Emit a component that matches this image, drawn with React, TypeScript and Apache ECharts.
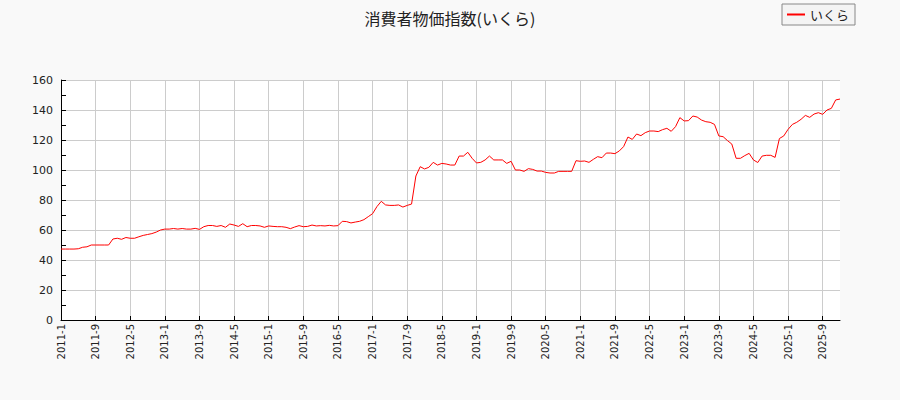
import { useEffect, useRef } from 'react';
import * as echarts from 'echarts';

const TITLE = '消費者物価指数(いくら)';
const SERIES_NAME = 'いくら';

// months from 2011-1 to 2026-1
const START_YEAR = 2011;
const MONTH_COUNT = 181;
const months: string[] = [];
for (let i = 0; i < MONTH_COUNT; i++) {
  months.push(`${START_YEAR + Math.floor(i / 12)}-${(i % 12) + 1}`);
}

const values: number[] = [
  // 2011
  47.3, 47.3, 47.3, 47.3, 47.5, 48.5, 48.8, 50, 50, 50, 50, 50,
  // 2012
  54, 54.5, 53.8, 55, 54.5, 54.5, 55.5, 56.4, 57, 57.6, 58.6, 60,
  // 2013
  60.6, 60.6, 61, 60.6, 61, 60.6, 60.6, 61.1, 60.4, 62.2, 63, 63,
  // 2014
  62.4, 63, 61.8, 64, 63.3, 62.4, 64.2, 62.2, 63, 63, 62.7, 61.8,
  // 2015
  62.7, 62.4, 62.2, 62.2, 61.8, 60.9, 62, 62.9, 62.2, 62.4, 63.3, 62.7,
  // 2016
  62.9, 62.7, 63.1, 62.7, 62.9, 65.8, 65.6, 64.7, 65.3, 65.8, 66.9, 68.9,
  // 2017
  70.9, 75.6, 79.1, 76.7, 76.4, 76.4, 76.7, 75.3, 76.4, 77.3, 96, 102.2,
  // 2018
  100.7, 101.8, 105.1, 103.3, 104.4, 104, 103.3, 103.3, 109.3, 109.3, 111.8, 107.8,
  // 2019
  104.7, 105.1, 106.7, 109.3, 106.7, 106.7, 106.7, 104.4, 105.8, 100, 100, 99.1,
  // 2020
  100.9, 100.4, 99.3, 99.3, 98.4, 98, 98, 99.1, 99.1, 99.1, 99.1, 106.2,
  // 2021
  105.8, 106, 105.1, 107.1, 108.9, 108.2, 111.3, 111.3, 110.9, 112.7, 115.6, 122,
  // 2022
  120.4, 124, 122.9, 124.9, 126, 126, 125.6, 126.9, 127.8, 125.8, 128.9, 134.9,
  // 2023
  132.7, 132.9, 136, 135.3, 133.3, 132.2, 131.8, 130.4, 122.7, 122.2, 119.6, 117.3,
  // 2024
  107.8, 107.8, 109.6, 111.1, 106.7, 105, 109.3, 109.8, 109.8, 108.4, 121, 122.7,
  // 2025
  127.1, 130.4, 131.8, 133.8, 136.4, 135.1, 137.3, 138.2, 137.1, 140, 141.1, 146.7,
  // 2026
  147.3,
];

const Y_MIN = 0;
const Y_MAX = 160;
const Y_STEP = 20;

const FONT = 'DejaVu Sans, "Noto Sans CJK JP", sans-serif';
const JP_FONT = '"Noto Sans CJK JP", sans-serif';

export default function App() {
  const ref = useRef<HTMLDivElement | null>(null);

  useEffect(() => {
    document.body.style.margin = '0';
    if (!ref.current) return;
    const chart = echarts.init(ref.current, undefined, { renderer: 'svg' });

    chart.setOption({
      animation: false,
      backgroundColor: '#f9f9f9',
      title: {
        text: TITLE,
        left: 'center',
        top: 5,
        textStyle: {
          fontFamily: JP_FONT,
          fontSize: 16,
          fontWeight: 'normal',
          color: '#222',
        },
      },
      legend: {
        right: 45,
        top: 4,
        data: [SERIES_NAME],
        icon: 'rect',
        itemWidth: 18,
        itemHeight: 2,
        itemGap: 8,
        padding: [4, 6, 4, 5],
        borderColor: '#888',
        borderWidth: 1,
        borderRadius: 0,
        backgroundColor: '#f4f4f4',
        textStyle: { fontFamily: JP_FONT, fontSize: 13, color: '#222' },
      },
      grid: {
        left: 61,
        right: 60,
        top: 80,
        bottom: 80,
        show: true,
        backgroundColor: '#ffffff',
        borderWidth: 0,
      },
      xAxis: {
        type: 'category',
        data: months,
        boundaryGap: false,
        axisLine: { lineStyle: { color: '#000', width: 1 } },
        axisTick: {
          inside: true,
          length: 4,
          interval: 7,
          lineStyle: { color: '#000' },
        },
        axisLabel: {
          interval: 7,
          rotate: 90,
          fontFamily: FONT,
          fontSize: 10,
          color: '#222',
          margin: 4,
        },
        splitLine: {
          show: true,
          interval: 7,
          lineStyle: { color: '#cccccc', width: 1 },
        },
      },
      yAxis: {
        type: 'value',
        min: Y_MIN,
        max: Y_MAX,
        interval: Y_STEP,
        axisLine: { show: true, lineStyle: { color: '#000', width: 1 } },
        axisTick: { show: true, inside: true, length: 5, lineStyle: { color: '#000' } },
        minorTick: {
          show: true,
          splitNumber: 2,
          length: 5,
          lineStyle: { color: '#000' },
        },
        axisLabel: {
          fontFamily: FONT,
          fontSize: 11,
          color: '#222',
          margin: 8,
        },
        splitLine: { show: true, lineStyle: { color: '#cccccc', width: 1 } },
      },
      series: [
        {
          name: SERIES_NAME,
          type: 'line',
          data: values,
          symbol: 'none',
          lineStyle: { color: '#ff0000', width: 1 },
          itemStyle: { color: '#ff0000' },
        },
      ],
    });

    return () => {
      chart.dispose();
    };
  }, []);

  return <div ref={ref} style={{ width: 900, height: 400 }} />;
}
